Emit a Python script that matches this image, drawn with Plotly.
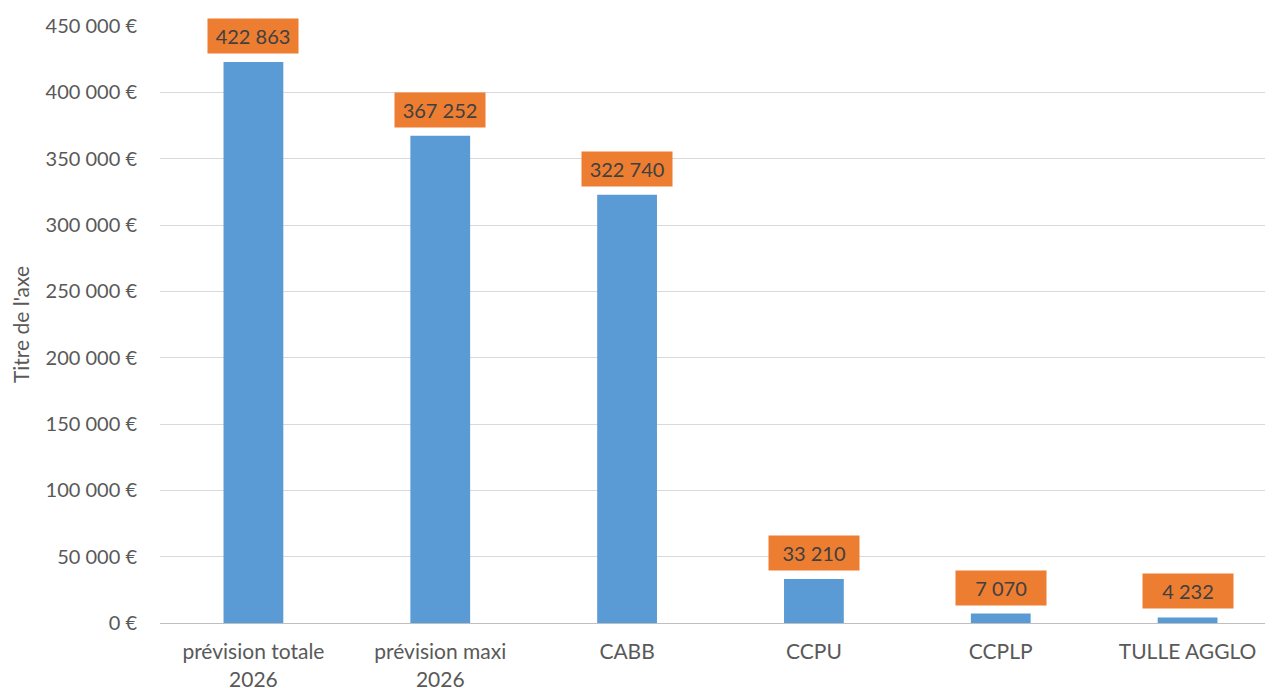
import plotly.graph_objects as go

categories = ["prévision totale<br>2026", "prévision maxi<br>2026", "CABB", "CCPU", "CCPLP", "TULLE AGGLO"]
values = [422863, 367252, 322740, 33210, 7070, 4232]
y_tickvals = [0, 50000, 100000, 150000, 200000, 250000, 300000, 350000, 400000, 450000]
y_ticktext = ["0 €", "50 000 €", "100 000 €", "150 000 €", "200 000 €", "250 000 €",
              "300 000 €", "350 000 €", "400 000 €", "450 000 €"]
y_title = "Titre de l'axe"

FONT = "Lato, Carlito, Calibri, Liberation Sans, Arial"

def fmt(v):
    return f"{v:,}".replace(",", " ")

fig = go.Figure()
fig.add_trace(go.Bar(
    x=categories, y=values,
    marker=dict(color="#5B9BD5", line=dict(width=0)),
    width=0.32,
    hoverinfo="skip",
))

for c, v in zip(categories, values):
    fig.add_annotation(
        x=c, y=v, text=fmt(v), showarrow=False,
        yanchor="bottom", yshift=8,
        bgcolor="#ED7D31", borderpad=6, width=78, height=22,
        font=dict(family=FONT, size=20, color="#404040"),
    )

fig.update_layout(
    width=1273, height=688,
    margin=dict(l=152, r=0, t=18, b=73),
    plot_bgcolor="white", paper_bgcolor="white",
    showlegend=False,
    font=dict(family=FONT, color="#595959", size=16),
)
fig.update_xaxes(
    range=[-0.5, 5.5],
    showgrid=False, showline=True, linecolor="#BFBFBF", linewidth=1,
    ticks="outside", ticklen=10, tickcolor="white",
    tickfont=dict(family=FONT, size=21, color="#595959"),
)
fig.update_yaxes(
    range=[0, 450000],
    tickvals=y_tickvals, ticktext=y_ticktext,
    showgrid=True, gridcolor="#D9D9D9", gridwidth=1,
    zeroline=False, showline=False,
    ticks="outside", ticklen=18, tickcolor="white",
    tickfont=dict(family=FONT, size=20, color="#595959"),
    title=dict(text=y_title, font=dict(family=FONT, size=21, color="#595959"), standoff=11),
)

fig.write_html("out.html")
